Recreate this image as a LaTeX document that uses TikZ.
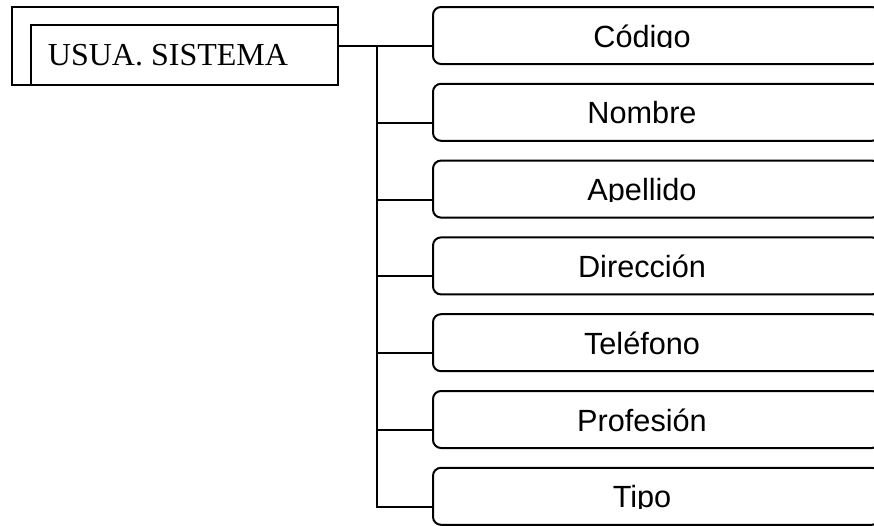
\documentclass[tikz,border=0pt]{standalone}
\usepackage{fontspec}
\setmainfont{Liberation Serif}
\newfontfamily\arialfont{Liberation Sans}
\usetikzlibrary{positioning, calc}

\begin{document}
\begin{tikzpicture}[x=0.75pt, y=-0.75pt, line width=1.5pt,
    entidad/.style={draw, rectangle, minimum width=244.5pt, minimum height=58.5pt, inner sep=0pt, anchor=north west},
    campo/.style={draw, rectangle, rounded corners=6pt, minimum width=335.25pt, minimum height=42.75pt, inner sep=0pt, anchor=north west},
    etiqueta/.style={font=\arialfont\fontsize{23}{28}\selectfont, anchor=base, inner sep=0pt}]
    \useasboundingbox (0,0) rectangle (874,525);
    \clip (0,0) rectangle (874,525);
    % entidad
    \node[entidad] (usua) at (11,6) {};
    \draw ([xshift=15pt]usua.south west) |- ([yshift=-14.25pt]usua.north east);
    \node[font=\fontsize{24}{29}\selectfont, anchor=base, inner sep=0pt] (usuatxt) at (168,65) {USUA. SISTEMA};
    % campos
    \foreach \t [count=\i] in {Código, Nombre, Apellido, Dirección, Teléfono, Profesión, Tipo} {
        \pgfmathsetmacro{\ty}{6+76.8*(\i-1)}
        \node[campo] (c\i) at (432,\ty) {};
        \coordinate (b\i) at ($(c\i.west)+(0,10.5)$);
        \begin{scope}
            \clip (432,\ty) rectangle (874,\ty+41.5);
            \node[etiqueta] (t\i) at (642,\ty+41) {\t};
        \end{scope}
    }
    % conectores
    \coordinate (tronco) at (377,45);
    \draw (usua.east) -- (b1);
    \draw (tronco) |- (b7);
    \foreach \i in {2,...,6}
        \draw (tronco |- b\i) -- (b\i);
\end{tikzpicture}
\end{document}
